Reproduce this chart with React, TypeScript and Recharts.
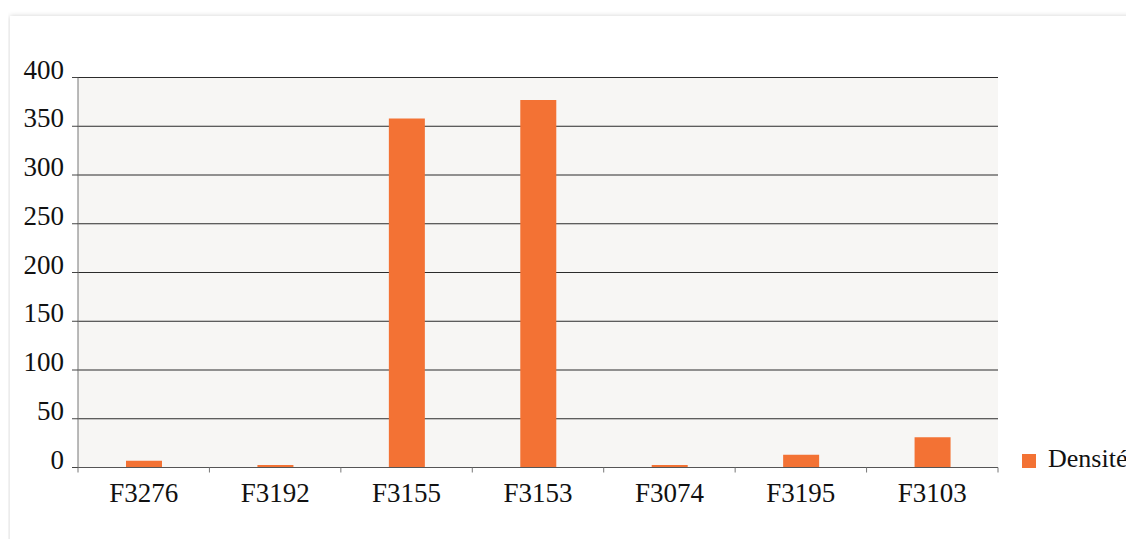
import { Bar, BarChart, CartesianGrid, Legend, XAxis, YAxis } from "recharts";

const categories = ["F3276", "F3192", "F3155", "F3153", "F3074", "F3195", "F3103"];
const densite = [7, 2.5, 358, 377, 2.5, 13, 31];
const yTicks = [0, 50, 100, 150, 200, 250, 300, 350, 400];

const data = categories.map((name, i) => ({ name, densite: densite[i] }));

const FONT = "'Liberation Serif', 'Times New Roman', serif";
const ORANGE = "#f37234";

function YTick(props: any) {
  const { x, y, payload } = props;
  return (
    <text x={x} y={y + 1} textAnchor="end" style={{ fontFamily: FONT }} fontSize={27} fill="#111">
      {payload.value}
    </text>
  );
}

function XTick(props: any) {
  const { x, y, payload, index, visibleTicksCount } = props;
  const half = payload.offset ?? 920 / categories.length / 2;
  const last = index === visibleTicksCount - 1;
  return (
    <g>
      <line x1={x - half} x2={x - half} y1={y} y2={y + 5} stroke="#777" />
      {last && <line x1={x + half} x2={x + half} y1={y} y2={y + 5} stroke="#777" />}
      <text x={x} y={y + 34} textAnchor="middle" style={{ fontFamily: FONT }} fontSize={27} fill="#111">
        {payload.value}
      </text>
    </g>
  );
}

function LegendContent() {
  return (
    <div style={{ display: "flex", alignItems: "center", fontFamily: FONT, fontSize: 26, color: "#111", whiteSpace: "nowrap" }}>
      <span style={{ width: 14, height: 14, background: ORANGE, display: "inline-block", marginRight: 12, marginTop: 4 }} />
      <span>Densité</span>
    </div>
  );
}

export default function App() {
  return (
    <div style={{ position: "relative", width: 1126, height: 531, overflow: "hidden" }}>
      <div
        style={{
          position: "absolute",
          left: 2,
          top: 8,
          width: 1200,
          height: 600,
          background: "#fff",
          boxShadow: "0 0 5px rgba(0,0,0,0.18)",
        }}
      />
      <div style={{ position: "absolute", left: 0, top: 0 }}>
        <BarChart
          width={1126}
          height={531}
          data={data}
          margin={{ top: 69.5, right: 136, bottom: 31.5, left: 0 }}
          barSize={36}
        >
          <CartesianGrid vertical={false} stroke="#2b2b2b" fill="#f7f6f4" fillOpacity={1} />
          <XAxis
            dataKey="name"
            height={40}
            axisLine={{ stroke: "#555" }}
            tickLine={false}
            tickSize={0}
            tickMargin={0}
            tick={<XTick />}
            interval={0}
          />
          <YAxis
            width={70}
            domain={[0, 400]}
            ticks={yTicks}
            axisLine={{ stroke: "#777" }}
            tickLine={{ stroke: "#444" }}
            tickSize={6}
            tickMargin={8}
            tick={<YTick />}
            interval={0}
          />
          <Legend
            layout="horizontal"
            verticalAlign="middle"
            align="center"
            content={<LegendContent />}
            wrapperStyle={{ left: 1014, top: 436, width: "auto", height: "auto" }}
          />
          <Bar dataKey="densite" name="Densité" fill={ORANGE} isAnimationActive={false} />
        </BarChart>
      </div>
    </div>
  );
}
